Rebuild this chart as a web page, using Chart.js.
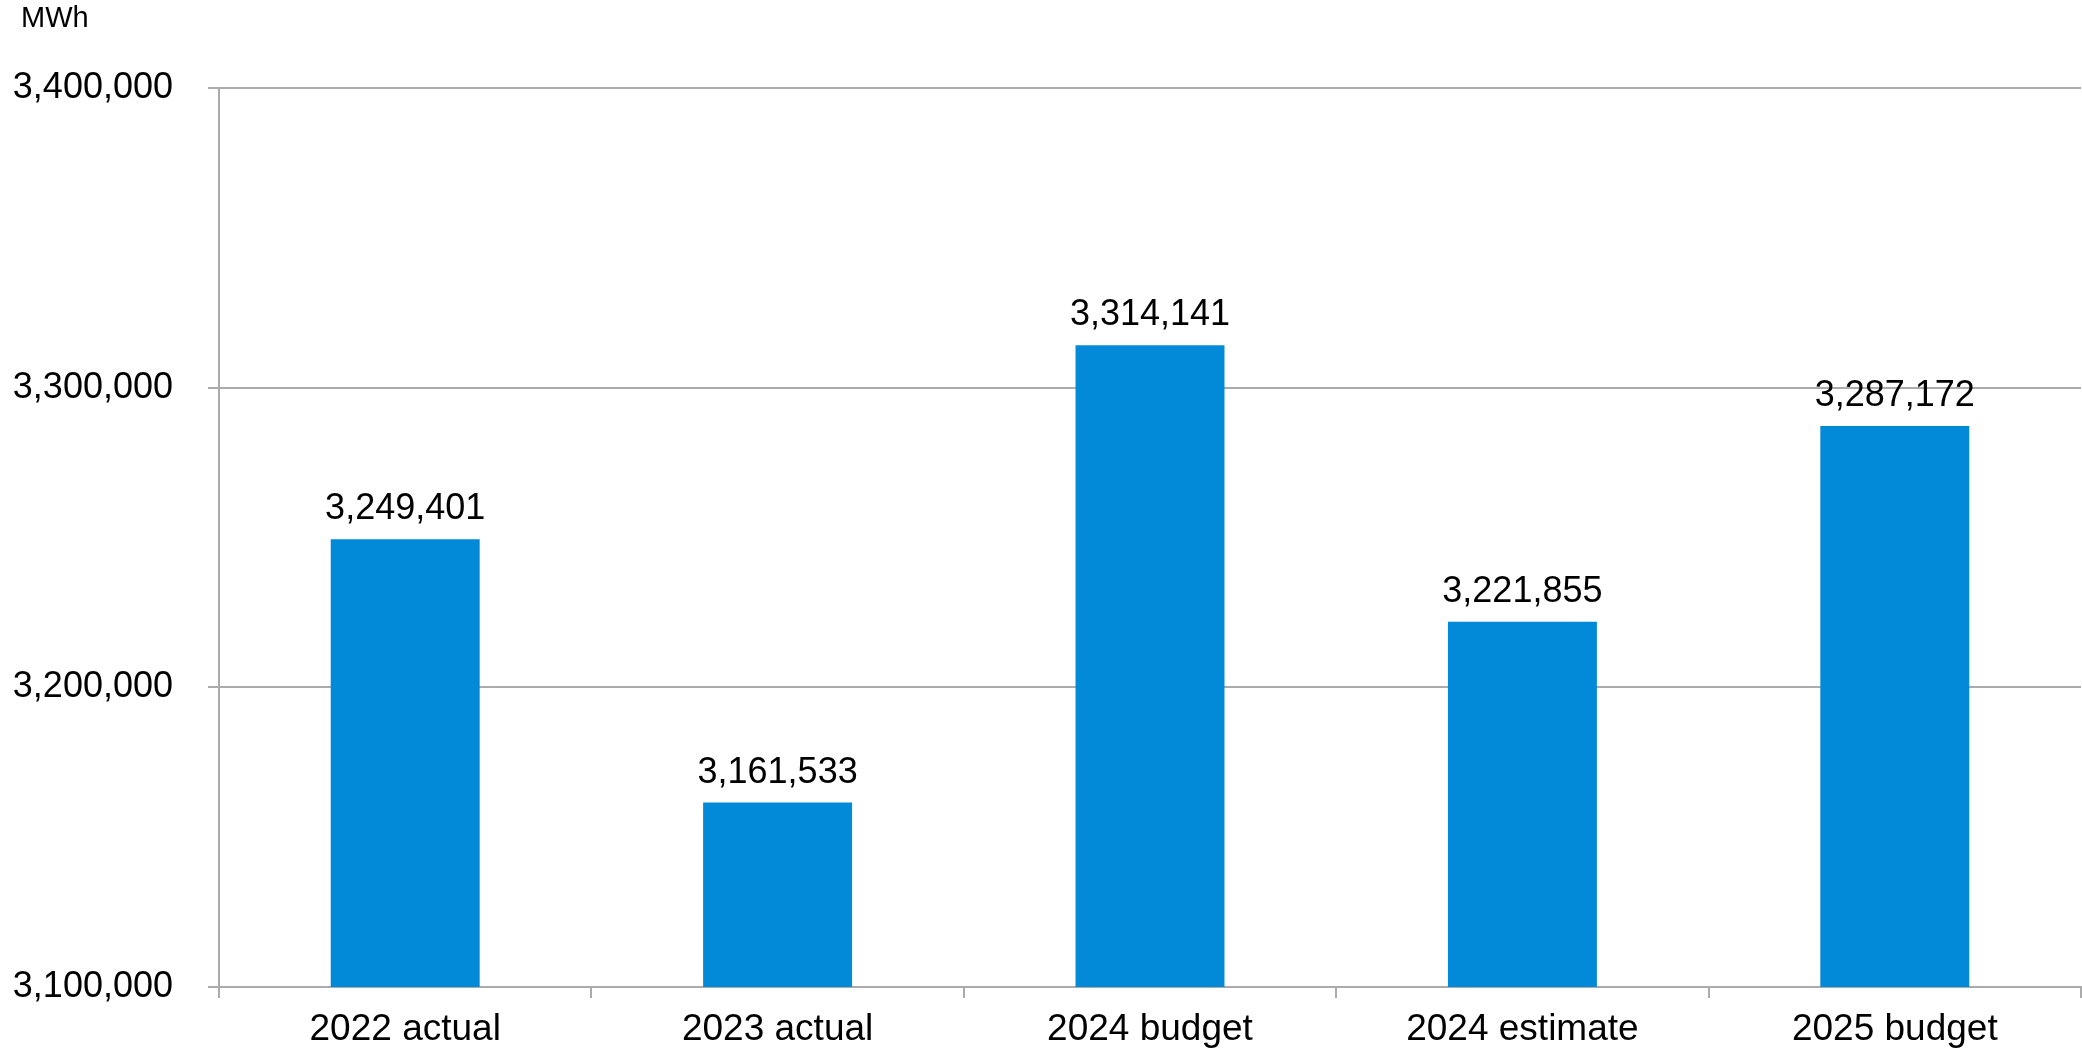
<!DOCTYPE html>
<html>
<head>
<meta charset="utf-8">
<style>
  html, body { margin: 0; padding: 0; background: #ffffff; }
  #wrap { width: 2082px; height: 1051px; }
</style>
<script src="https://cdn.jsdelivr.net/npm/chart.js@4/dist/chart.umd.min.js"></script>
</head>
<body>
<div id="wrap"><canvas id="c" width="2082" height="1051"></canvas></div>
<script>
// Annual electricity volume, MWh
const categories = ['2022 actual', '2023 actual', '2024 budget', '2024 estimate', '2025 budget'];
const volumes = [3249401, 3161533, 3314141, 3221855, 3287172];
const unitLabel = 'MWh';
const yMin = 3100000;
const yMax = 3400000;
const yStep = 100000;

const FONT = "'Liberation Sans', Arial, sans-serif";
const BAR_BLUE = '#0289D8';
const GRID_GREY = '#ABABAB';

const fmt = v => v.toLocaleString('en-US');

// Value labels above each bar and the unit caption at the top left
const annotate = {
  id: 'annotate',
  afterDatasetsDraw(chart) {
    const ctx = chart.ctx;
    ctx.save();
    ctx.fillStyle = '#000000';
    ctx.font = '36px ' + FONT;
    ctx.textAlign = 'center';
    ctx.textBaseline = 'alphabetic';
    const meta = chart.getDatasetMeta(0);
    meta.data.forEach((bar, i) => {
      ctx.fillText(fmt(chart.data.datasets[0].data[i]), bar.x, bar.y - 20);
    });
    ctx.font = '29px ' + FONT;
    ctx.textAlign = 'left';
    ctx.textBaseline = 'middle';
    ctx.fillText(unitLabel, 21, 19);
    ctx.restore();
  }
};

new Chart(document.getElementById('c'), {
  type: 'bar',
  data: {
    labels: categories,
    datasets: [{
      data: volumes,
      backgroundColor: BAR_BLUE,
      borderWidth: 0,
      barPercentage: 0.8,
      categoryPercentage: 0.5
    }]
  },
  options: {
    responsive: false,
    animation: false,
    devicePixelRatio: 1,
    layout: { padding: { top: 88, right: 1, left: 0, bottom: 0 } },
    plugins: {
      legend: { display: false },
      tooltip: { enabled: false }
    },
    scales: {
      x: {
        offset: true,
        grid: {
          display: true,
          offset: true,
          drawOnChartArea: false,
          drawTicks: true,
          tickLength: 11,
          color: GRID_GREY,
          lineWidth: 2
        },
        border: { display: true, color: GRID_GREY, width: 2 },
        ticks: {
          color: '#000000',
          font: { family: FONT, size: 37 },
          padding: 10,
          maxRotation: 0
        },
        afterFit(scale) { scale.height = 64; }
      },
      y: {
        min: yMin,
        max: yMax,
        grid: {
          color: GRID_GREY,
          lineWidth: 2,
          drawTicks: true,
          tickLength: 11
        },
        border: { display: true, color: GRID_GREY, width: 2 },
        ticks: {
          stepSize: yStep,
          color: '#000000',
          font: { family: FONT, size: 36 },
          padding: 35,
          callback: v => fmt(v)
        },
        afterFit(scale) { scale.width = 219; }
      }
    }
  },
  plugins: [annotate]
});
</script>
</body>
</html>
